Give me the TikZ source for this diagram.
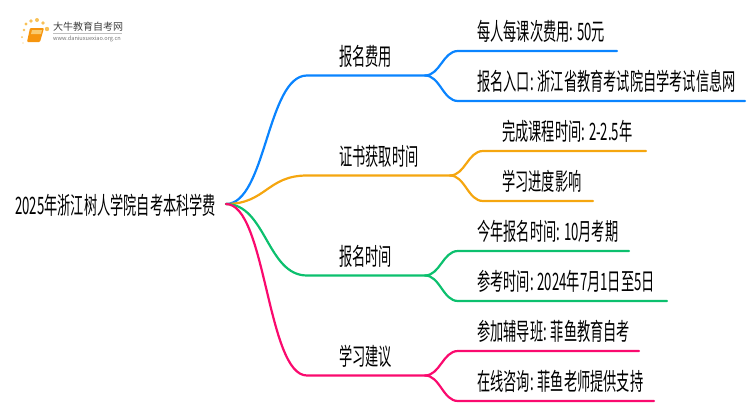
\documentclass[tikz,border=0pt]{standalone}
\usepackage{fontspec}
\usepackage{graphicx}
\setmainfont{Noto Sans CJK SC}
\definecolor{cblue}{HTML}{0A84FF}
\definecolor{corange}{HTML}{F5A60F}
\definecolor{cgreen}{HTML}{0CC06E}
\definecolor{cpink}{HTML}{FA0A6E}
\newcommand{\sq}[1]{\scalebox{0.55}[1]{#1}}
\tikzset{
  lbl/.style={anchor=west,inner sep=0pt,text=black,font=\fontsize{24}{26}\selectfont},
  link/.style={line width=2.2pt,line cap=round},
}
\newcommand{\mybranch}[7]{%
  \coordinate (m#7) at (307,#2);
  \coordinate (s#7) at (#3,#2);
  \coordinate (u#7) at (#4,#2-24.5);
  \coordinate (l#7) at (#4,#2+25.5);
  \coordinate (ue#7) at (#5,#2-24.5);
  \coordinate (le#7) at (#6,#2+25.5);
  \draw[link,#1] (r) .. controls +(40,0) and +(-40,0) .. (m#7) -- (s#7);
  \draw[link,#1] (s#7) .. controls +(15,0) and +(-15,0) .. (u#7) -- (ue#7);
  \draw[link,#1] (s#7) .. controls +(15,0) and +(-15,0) .. (l#7) -- (le#7);
}
\begin{document}
\begin{tikzpicture}[x=1pt,y=-1pt]
\useasboundingbox (0,0) rectangle (750,410);
% logo
\foreach \px/\py/\pr in {24/30/1.3,22/37/1,26/24/1.6,31/21/1.9,37/20/2,43/23/1.8,47/29/2.2,23/43/.7}
  \fill[corange!70] (\px,\py) circle (\pr);
\fill[corange!90!red,rounded corners=1pt] (30,28) -- (44,28) -- (40,42) -- (27,42) -- cycle;
\fill[corange!60] (32,30) -- (42,30) -- (41,34) -- (31,34) -- cycle;
\node[anchor=west,inner sep=0pt,text=black!75,font=\fontsize{10}{11}\selectfont] (logoa) at (53,27) {大牛教育自考网};
\draw[black!25,line width=.5pt] (logoa.south west) ++(0,1) -- ++(69,0);
\node[anchor=west,inner sep=0pt,text=black!55,font=\fontsize{5.6}{6}\selectfont] (logob) at (53,39) {www.daniuxuexiao.org.cn};
% nodes
\node[lbl] (root) at (15,205) {\sq{2025年浙江树人学院自考本科学费}};
\node[lbl] (a) at (339,56) {\sq{报名费用}};
\node[lbl] (b) at (339,156) {\sq{证书获取时间}};
\node[lbl] (c) at (339,256) {\sq{报名时间}};
\node[lbl] (d) at (339,356) {\sq{学习建议}};
\node[lbl] (a1) at (477,31) {\sq{每人每课次费用: 50元}};
\node[lbl] (a2) at (477,81) {\sq{报名入口: 浙江省教育考试院自学考试信息网}};
\node[lbl] (b1) at (502,131) {\sq{完成课程时间: 2-2.5年}};
\node[lbl] (b2) at (502,181) {\sq{学习进度影响}};
\node[lbl] (c1) at (477,231) {\sq{今年报名时间: 10月考期}};
\node[lbl] (c2) at (477,281) {\sq{参考时间: 2024年7月1日至5日}};
\node[lbl] (d1) at (477,331) {\sq{参加辅导班: 菲鱼教育自考}};
\node[lbl] (d2) at (477,381) {\sq{在线咨询: 菲鱼老师提供支持}};
% connectors
\coordinate (r) at (226,204);
\mybranch{cblue}{75.5}{425}{458}{617}{745}{A}
\mybranch{corange}{175.5}{450}{483}{646}{593}{B}
\mybranch{cgreen}{275.5}{425}{458}{629}{667}{C}
\mybranch{cpink}{375.5}{425}{458}{639}{654}{D}
\end{tikzpicture}
\end{document}
